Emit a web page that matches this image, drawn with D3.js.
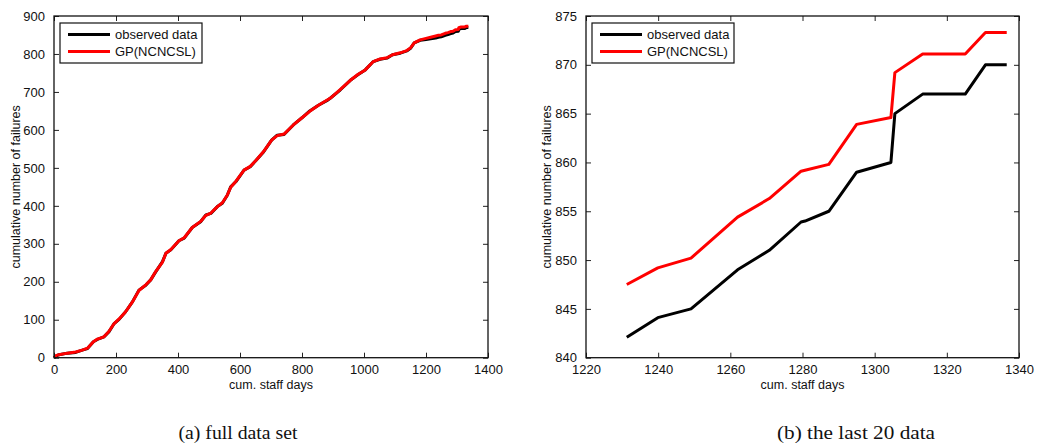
<!DOCTYPE html>
<html>
<head>
<meta charset="utf-8">
<script src="https://cdn.jsdelivr.net/npm/d3@7/dist/d3.min.js"></script>
<style>
  html, body { margin: 0; padding: 0; background: #fff; }
  svg { display: block; }
  .tick text { font-family: "Liberation Sans", Arial, sans-serif; font-size: 13px; fill: #111; }
</style>
</head>
<body>
<svg id="fig" width="1038" height="448"></svg>
<script>
// Full data set: cumulative staff days vs cumulative number of failures
const fullDays = [0, 8, 16, 43, 70, 91, 108, 127, 140, 161, 177, 194, 210, 231, 253, 274, 296, 312, 328, 350, 361, 377, 403, 420, 446, 473, 490, 506, 527, 543, 559, 570, 587, 613, 633, 652, 676, 702, 720, 742, 772, 800, 825, 853, 880, 892, 923, 955, 980, 1004, 1030, 1052, 1074, 1092, 1117, 1138, 1150, 1162, 1181, 1200, 1215,
  1231.3, 1239.9, 1249.1, 1262.0, 1270.8, 1279.6, 1280.7, 1287.3, 1295.0, 1304.5, 1305.6, 1313.3, 1325.1, 1330.7, 1336.6];
const fullObserved = [0, 5, 8, 12, 14, 20, 24, 42, 48, 55, 68, 90, 101, 121, 147, 178, 191, 205, 226, 253, 275, 284, 308, 315, 343, 358, 376, 380, 398, 407, 428, 450, 464, 494, 503, 520, 542, 573, 586, 588, 613, 632, 650, 665, 677, 684, 705, 730, 745, 758, 780, 786, 789, 798, 802, 808, 815, 829, 836, 838, 840,
  842.1, 844.1, 845.0, 849.0, 851.0, 853.9, 854.0, 855.0, 859.0, 860.0, 865.0, 867.0, 867.0, 870.0, 870.0];
const fullModel = [0, 6, 8, 12, 15, 20, 25, 42, 49, 55, 69, 90, 102, 121, 147, 177, 192, 205, 227, 252, 275, 285, 308, 316, 343, 359, 375, 381, 398, 408, 428, 449, 465, 494, 504, 520, 543, 573, 585, 589, 613, 632, 649, 665, 678, 684, 706, 730, 746, 758, 780, 787, 790, 798, 803, 809, 816, 829, 837, 841, 844,
  847.5, 849.2, 850.2, 854.4, 856.3, 859.1, 859.2, 859.8, 863.9, 864.6, 869.2, 871.1, 871.1, 873.3, 873.3];

// The last data points, shown enlarged
const lastDays = [1231.3, 1239.9, 1249.1, 1262.0, 1270.8, 1279.6, 1280.7, 1287.3, 1295.0, 1304.5, 1305.6, 1313.3, 1325.1, 1330.7, 1336.6];
const lastObserved = [842.1, 844.1, 845.0, 849.0, 851.0, 853.9, 854.0, 855.0, 859.0, 860.0, 865.0, 867.0, 867.0, 870.0, 870.0];
const lastModel = [847.5, 849.2, 850.2, 854.4, 856.3, 859.1, 859.2, 859.8, 863.9, 864.6, 869.2, 871.1, 871.1, 873.3, 873.3];

const seriesNames = ["observed data", "GP(NCNCSL)"];
const seriesColors = ["#000000", "#ff0000"];

const fullXTicks = [0, 200, 400, 600, 800, 1000, 1200, 1400];
const fullYTicks = [0, 100, 200, 300, 400, 500, 600, 700, 800, 900];
const lastXTicks = [1220, 1240, 1260, 1280, 1300, 1320, 1340];
const lastYTicks = [840, 845, 850, 855, 860, 865, 870, 875];

const xLabel = "cum. staff days";
const yLabel = "cumulative number of failures";
const captions = ["(a) full data set", "(b) the last 20 data"];

const svg = d3.select("#fig");
const fmt = d3.format("d");

function panel(opts) {
  const { left, right, top, bottom, xDomain, yDomain, xTicks, yTicks, xs, ys, legendX, yLabelX, caption, captionX, captionLen } = opts;
  const x = d3.scaleLinear().domain(xDomain).range([left, right]);
  const y = d3.scaleLinear().domain(yDomain).range([bottom, top]);
  const g = svg.append("g");

  // data lines: observed first, model on top
  const line = d3.line().x(d => x(d[0])).y(d => y(d[1]));
  ys.forEach((vals, i) => {
    g.append("path")
      .datum(xs.map((v, k) => [v, vals[k]]))
      .attr("d", line)
      .attr("fill", "none")
      .attr("stroke", seriesColors[i])
      .attr("stroke-width", 3)
      .attr("stroke-linejoin", "round");
  });

  // axes with inward ticks on all four sides
  const axB = g.append("g").attr("transform", `translate(0,${bottom})`)
    .call(d3.axisBottom(x).tickValues(xTicks).tickFormat(fmt).tickSizeInner(-5).tickSizeOuter(0).tickPadding(9));
  const axL = g.append("g").attr("transform", `translate(${left},0)`)
    .call(d3.axisLeft(y).tickValues(yTicks).tickFormat(fmt).tickSizeInner(-5).tickSizeOuter(0).tickPadding(9));
  const axT = g.append("g").attr("transform", `translate(0,${top})`)
    .call(d3.axisTop(x).tickValues(xTicks).tickSizeInner(-5).tickSizeOuter(0).tickFormat(""));
  const axR = g.append("g").attr("transform", `translate(${right},0)`)
    .call(d3.axisRight(y).tickValues(yTicks).tickSizeInner(-5).tickSizeOuter(0).tickFormat(""));
  [axB, axL, axT, axR].forEach(a => {
    a.select(".domain").remove();
    a.selectAll(".tick line").attr("stroke", "#222").attr("stroke-width", 1);
  });
  axB.selectAll(".tick text").attr("dy", "0.55em");

  g.append("rect")
    .attr("x", left).attr("y", top)
    .attr("width", right - left).attr("height", bottom - top)
    .attr("fill", "none").attr("stroke", "#111").attr("stroke-width", 1.3);

  // axis titles
  g.append("text")
    .attr("x", (left + right) / 2).attr("y", 389)
    .attr("text-anchor", "middle")
    .style("font-family", "Liberation Sans, Arial, sans-serif").style("font-size", "12.5px").attr("fill", "#111")
    .text(xLabel);
  g.append("text")
    .attr("transform", `translate(${yLabelX},${(top + bottom) / 2}) rotate(-90)`)
    .attr("text-anchor", "middle")
    .style("font-family", "Liberation Sans, Arial, sans-serif").style("font-size", "12.5px").attr("fill", "#111")
    .text(yLabel);

  // legend
  const lg = g.append("g").attr("transform", `translate(${legendX},23)`);
  lg.append("rect").attr("width", 142).attr("height", 40)
    .attr("fill", "#fff").attr("stroke", "#111").attr("stroke-width", 1.2);
  seriesNames.forEach((name, i) => {
    const ly = 11.5 + i * 17;
    lg.append("line").attr("x1", 8).attr("x2", 50).attr("y1", ly).attr("y2", ly)
      .attr("stroke", seriesColors[i]).attr("stroke-width", 3);
    lg.append("text").attr("x", 55).attr("y", ly).attr("dy", "0.36em")
      .style("font-family", "Liberation Sans, Arial, sans-serif").style("font-size", "13px").attr("fill", "#111")
      .text(name);
  });

  // sub-figure caption
  svg.append("text")
    .attr("x", captionX).attr("y", 439)
    .attr("text-anchor", "middle")
    .attr("textLength", captionLen).attr("lengthAdjust", "spacingAndGlyphs")
    .style("font-family", "Liberation Serif, Times New Roman, serif").style("font-size", "18px").attr("fill", "#111")
    .text(caption);
}

panel({
  left: 54, right: 488, top: 16, bottom: 357.7,
  xDomain: [0, 1400], yDomain: [0, 900],
  xTicks: fullXTicks, yTicks: fullYTicks,
  xs: fullDays, ys: [fullObserved, fullModel],
  legendX: 60, yLabelX: 20,
  caption: captions[0], captionX: 238, captionLen: 119
});

panel({
  left: 586, right: 1019, top: 16, bottom: 357.7,
  xDomain: [1220, 1340], yDomain: [840, 875],
  xTicks: lastXTicks, yTicks: lastYTicks,
  xs: lastDays, ys: [lastObserved, lastModel],
  legendX: 592, yLabelX: 551,
  caption: captions[1], captionX: 856, captionLen: 158
});
</script>
</body>
</html>
